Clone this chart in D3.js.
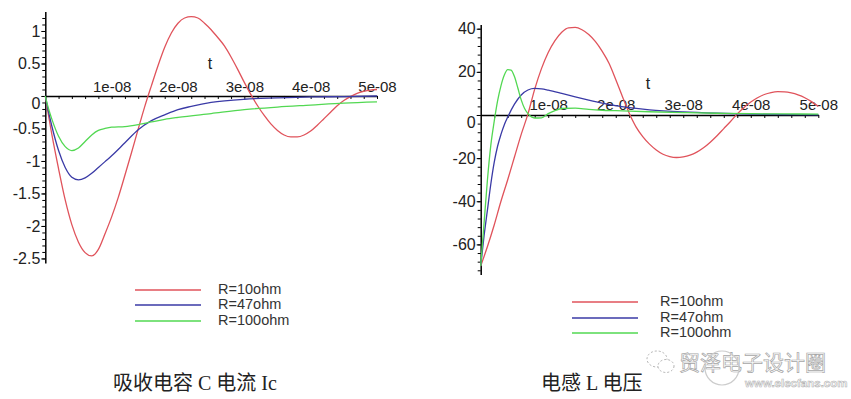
<!DOCTYPE html>
<html>
<head>
<meta charset="utf-8">
<script src="https://cdnjs.cloudflare.com/ajax/libs/d3/7.8.5/d3.min.js"></script>
<style>
    body { margin: 0; background: #fff; }
    svg { display: block; }
</style>
</head>
<body>
<svg id="chart" width="851" height="399"></svg>
<script>
// time is given in units of 1e-8 s
var xTickValues = [1, 2, 3, 4, 5];
var xTickLabels = ["1e-08", "2e-08", "3e-08", "4e-08", "5e-08"];

var icTickValues = [-2.5, -2, -1.5, -1, -0.5, 0, 0.5, 1];
var icTickLabels = ["-2.5", "-2", "-1.5", "-1", "-0.5", "0", "0.5", "1"];
var vlTickValues = [-60, -40, -20, 0, 20, 40];
var vlTickLabels = ["-60", "-40", "-20", "0", "20", "40"];

var seriesNames = ["R=10ohm", "R=47ohm", "R=100ohm"];
var seriesColors = ["#e0535b", "#3a3aa6", "#52d852"];

var captions = ["吸收电容 C 电流 Ic", "电感 L 电压"];

// absorbing capacitor current Ic, [t, value]
var icR10 = [[0, 0], [0.1, -0.6], [0.2, -1.12], [0.3, -1.6], [0.4, -1.98], [0.5, -2.25], [0.6, -2.41],
    [0.7, -2.46], [0.8, -2.36], [0.9, -2.12], [1.0, -1.86], [1.1, -1.56], [1.2, -1.22], [1.3, -0.87],
    [1.4, -0.51], [1.5, -0.16], [1.6, 0.16], [1.7, 0.47], [1.8, 0.75], [1.9, 0.97], [2.0, 1.12],
    [2.1, 1.2], [2.2, 1.22], [2.3, 1.2], [2.4, 1.12], [2.5, 1.02], [2.6, 0.9], [2.7, 0.77], [2.8, 0.6],
    [2.9, 0.41], [3.0, 0.21], [3.1, 0.02], [3.2, -0.15], [3.3, -0.3], [3.4, -0.43], [3.5, -0.53],
    [3.6, -0.6], [3.7, -0.63], [3.8, -0.63], [3.9, -0.6], [4.0, -0.54], [4.1, -0.45], [4.2, -0.35],
    [4.3, -0.25], [4.4, -0.15], [4.5, -0.07], [4.6, -0.01], [4.7, 0.04], [4.8, 0.07], [4.9, 0.09], [5.0, 0.1]];
var icR47 = [[0, 0], [0.05, -0.25], [0.1, -0.47], [0.2, -0.84], [0.3, -1.1], [0.4, -1.25], [0.5, -1.29],
    [0.6, -1.26], [0.7, -1.19], [0.8, -1.1], [0.9, -1.01], [1.0, -0.92], [1.2, -0.72], [1.4, -0.52],
    [1.6, -0.38], [1.8, -0.29], [2.0, -0.21], [2.2, -0.16], [2.5, -0.1], [3.0, -0.05], [3.5, -0.03],
    [4.0, -0.015], [4.5, -0.01], [5.0, 0]];
var icR100 = [[0, 0], [0.05, -0.2], [0.1, -0.36], [0.2, -0.62], [0.3, -0.78], [0.4, -0.84], [0.5, -0.8],
    [0.6, -0.7], [0.7, -0.6], [0.8, -0.53], [0.9, -0.5], [1.0, -0.48], [1.2, -0.47], [1.4, -0.44],
    [1.6, -0.4], [1.8, -0.36], [2.0, -0.33], [2.5, -0.27], [3.0, -0.21], [3.5, -0.17], [4.0, -0.14],
    [4.5, -0.11], [5.0, -0.09]];

// inductor voltage, [t, value]
var vlR10 = [[0, -70], [0.1, -61], [0.2, -51], [0.3, -40], [0.4, -30], [0.5, -19.5], [0.6, -9], [0.7, 0.5],
    [0.8, 12], [0.9, 21.5], [1.0, 29], [1.1, 34.5], [1.2, 38.4], [1.3, 40.4], [1.4, 40.6], [1.5, 39.5],
    [1.6, 37.3], [1.7, 34], [1.8, 29.5], [1.9, 24], [2.0, 16.5], [2.1, 8.5], [2.2, 0.8], [2.3, -5.5],
    [2.4, -10], [2.5, -13.5], [2.6, -16.2], [2.7, -18.2], [2.8, -19.3], [2.9, -19.7], [3.0, -19.4],
    [3.1, -18.6], [3.2, -17.2], [3.3, -15.2], [3.4, -12.6], [3.5, -9.6], [3.6, -6.3], [3.7, -3],
    [3.8, 0.5], [3.9, 3.5], [4.0, 6], [4.1, 8], [4.2, 9.5], [4.3, 10.4], [4.4, 10.8], [4.5, 10.7],
    [4.6, 10.2], [4.7, 9.3], [4.8, 8], [4.9, 6.2], [5.0, 4]];
var vlR47 = [[0, -70], [0.05, -56], [0.1, -44], [0.15, -32], [0.2, -22], [0.25, -14.5], [0.3, -9],
    [0.35, -4.5], [0.4, -1], [0.5, 5], [0.6, 9.3], [0.7, 11.6], [0.8, 12.3], [0.9, 12.1], [1.0, 11.5],
    [1.2, 10], [1.4, 8.4], [1.6, 6.9], [1.8, 5.5], [2.0, 4.3], [2.2, 3.4], [2.5, 2.4], [3.0, 1.4],
    [3.5, 0.8], [4.0, 0.4], [4.5, 0.2], [5.0, 0.1]];
var vlR100 = [[0, -70], [0.05, -50], [0.1, -30], [0.15, -14], [0.2, -3], [0.25, 6.5], [0.3, 13.5],
    [0.35, 18.5], [0.4, 21], [0.45, 20.8], [0.5, 17.8], [0.55, 12.5], [0.6, 7], [0.65, 3], [0.7, 0.6],
    [0.8, -1.4], [0.9, -1.3], [1.0, 0.6], [1.1, 2], [1.2, 3], [1.4, 3.2], [1.6, 2.6], [1.8, 2.2],
    [2.0, 2], [2.5, 1.5], [3.0, 1.1], [3.5, 0.8], [4.0, 0.6], [4.5, 0.5], [5.0, 0.4]];

var svg = d3.select("#chart");
var axisFont = "'Liberation Sans', Arial, sans-serif";

function drawPlot(cfg) {
    var x = d3.scaleLinear().domain([0, 5]).range([cfg.left, cfg.right]);
    var y = d3.scaleLinear().domain(cfg.yDomain).range([cfg.bottom, cfg.top]);
    var g = svg.append("g");

    // y axis: small ticks, then labelled ones
    g.append("g")
        .attr("transform", "translate(" + x(0) + ",0)")
        .call(d3.axisLeft(y).tickValues(cfg.yMinor).tickSize(3).tickSizeOuter(0).tickFormat(""))
        .call(function (a) { a.select(".domain").attr("stroke-width", 1.5); });
    var yLab = g.append("g")
        .attr("transform", "translate(" + x(0) + ",0)")
        .call(d3.axisLeft(y).tickValues(cfg.yTicks).tickSize(4).tickPadding(1)
            .tickFormat(function (d, i) { return cfg.yLabels[i]; }));
    yLab.select(".domain").remove();
    yLab.attr("font-family", axisFont).attr("font-size", 16);
    yLab.selectAll("text").attr("fill", "#222");
    // maple puts the zero label just under the axis
    yLab.selectAll(".tick").filter(function (d) { return d === 0; })
        .select("text").attr("transform", "translate(0,7)");

    // x axis through zero
    g.append("g")
        .attr("transform", "translate(0," + y(0) + ")")
        .call(d3.axisBottom(x).tickValues(d3.range(0.2, 5.01, 0.2)).tickSize(3).tickSizeOuter(0).tickFormat(""))
        .call(function (a) { a.select(".domain").attr("stroke-width", 1.5); });
    var xLab = g.append("g")
        .attr("transform", "translate(0," + y(0) + ")")
        .call(d3.axisTop(x).tickValues(xTickValues).tickSize(0).tickPadding(cfg.xPad)
            .tickFormat(function (d, i) { return xTickLabels[i]; }));
    xLab.select(".domain").remove();
    xLab.attr("font-family", axisFont).attr("font-size", 15);
    xLab.selectAll("text").attr("fill", "#222");

    g.append("text")
        .attr("x", cfg.tPos[0]).attr("y", cfg.tPos[1])
        .attr("text-anchor", "middle").attr("dominant-baseline", "middle")
        .attr("font-family", axisFont).attr("font-size", 16).attr("fill", "#222")
        .text("t");

    // curves
    var line = d3.line()
        .x(function (d) { return x(d[0]); })
        .y(function (d) { return y(d[1]); })
        .curve(d3.curveMonotoneX);
    g.selectAll("path.curve")
        .data(cfg.series)
        .enter()
        .append("path")
        .attr("class", "curve")
        .attr("fill", "none")
        .attr("stroke", function (d, i) { return seriesColors[i]; })
        .attr("stroke-width", 1.3)
        .attr("d", line);

    // legend
    var leg = g.append("g");
    leg.selectAll("line")
        .data(seriesNames)
        .enter()
        .append("line")
        .attr("x1", cfg.legend.x1).attr("x2", cfg.legend.x2)
        .attr("y1", function (d, i) { return cfg.legend.ys[i]; })
        .attr("y2", function (d, i) { return cfg.legend.ys[i]; })
        .attr("stroke", function (d, i) { return seriesColors[i]; })
        .attr("stroke-width", 1.5);
    leg.selectAll("text")
        .data(seriesNames)
        .enter()
        .append("text")
        .attr("x", cfg.legend.tx)
        .attr("y", function (d, i) { return cfg.legend.ys[i]; })
        .attr("dominant-baseline", "middle")
        .attr("font-family", axisFont).attr("font-size", 14.5).attr("fill", "#333")
        .text(function (d) { return d; });

    // caption
    g.append("text")
        .attr("x", cfg.caption[0]).attr("y", cfg.caption[1])
        .attr("xml:space", "preserve")
        .attr("font-family", "'Liberation Serif', 'Noto Sans CJK SC', serif")
        .attr("font-size", 20).attr("fill", "#222")
        .text(cfg.captionText);
}

drawPlot({
    left: 45.3, right: 377, top: 11.5, bottom: 263, yDomain: [-2.57, 1.3],
    yTicks: icTickValues, yLabels: icTickLabels, yMinor: d3.range(-25, 13).map(function (k) { return k / 10; }),
    xPad: 4, tPos: [210, 65],
    series: [icR10, icR47, icR100],
    legend: { x1: 135, x2: 201, tx: 218, ys: [290, 305, 321] },
    caption: [113, 390], captionText: captions[0]
});

drawPlot({
    left: 480.7, right: 818.3, top: 24.4, bottom: 274.6, yDomain: [-74, 42],
    yTicks: vlTickValues, yLabels: vlTickLabels, yMinor: d3.range(-72, 41, 4),
    xPad: 5, tPos: [648, 85],
    series: [vlR10, vlR47, vlR100],
    legend: { x1: 572, x2: 638, tx: 660, ys: [302, 318, 333] },
    caption: [541, 390], captionText: captions[1]
});

// faint watermark in the corner
var wm = svg.append("g").attr("opacity", 0.75);
wm.append("ellipse").attr("cx", 657).attr("cy", 359).attr("rx", 10).attr("ry", 8)
    .attr("fill", "none").attr("stroke", "#999").attr("stroke-dasharray", "2,2");
wm.append("ellipse").attr("cx", 666).attr("cy", 366).attr("rx", 8).attr("ry", 6.5)
    .attr("fill", "#fff").attr("stroke", "#999").attr("stroke-dasharray", "2,2");
wm.append("text")
    .attr("x", 679).attr("y", 370)
    .attr("font-family", "'Noto Sans CJK SC', sans-serif").attr("font-size", 21)
    .attr("fill", "#fff").attr("stroke", "#888").attr("stroke-width", 0.7)
    .text("贸泽电子设计圈");
wm.append("circle").attr("cx", 722).attr("cy", 368).attr("r", 17)
    .attr("fill", "none").attr("stroke", "#bbb").attr("stroke-width", 1.2);
wm.append("text")
    .attr("x", 745).attr("y", 387)
    .attr("font-family", axisFont).attr("font-size", 11.5).attr("font-weight", "bold")
    .attr("fill", "#fff").attr("stroke", "#999").attr("stroke-width", 0.6)
    .text("www.elecfans.com");
</script>
</body>
</html>
